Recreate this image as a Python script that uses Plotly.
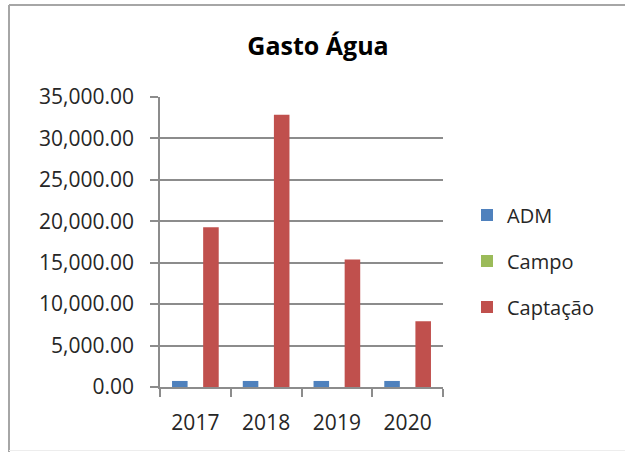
import plotly.graph_objects as go

anos = ["2017", "2018", "2019", "2020"]
adm = [730, 730, 730, 730]
campo = [0, 0, 0, 0]
captacao = [19270, 32850, 15400, 7940]

cores = {"ADM": "#4F81BD", "Campo": "#9BBB59", "Captação": "#C0504D"}
grid = "#8c8c8c"
fonte = "Open Sans"

W, H = 625, 452
# plot area in screen px: x 160..443, y 97..387
ml, mt = 160, 97
mr, mb = W - 443, H - 387
pw, ph = W - ml - mr, H - mt - mb


def px_x(x):
    return (x - ml) / pw


def px_y(y):
    return (H - mb - y) / ph


fig = go.Figure()
for i, (nome, valores) in enumerate([("ADM", adm), ("Campo", campo), ("Captação", captacao)]):
    fig.add_trace(go.Bar(
        x=anos, y=valores, name=nome, legendgroup=str(i),
        marker=dict(color=cores[nome], line=dict(width=0)),
    ))

fig.update_layout(
    width=W, height=H,
    margin=dict(l=ml, r=mr, t=mt, b=mb, autoexpand=False),
    paper_bgcolor="white", plot_bgcolor="white",
    font=dict(family=fonte, size=21, color="#262626"),
    title=dict(text="<b>Gasto Água</b>", x=px_x(318), xref="paper", xanchor="center",
               y=1 - 46 / H, yanchor="middle", font=dict(size=25, color="black")),
    barmode="group", bargap=0.34, bargroupgap=0,
    showlegend=True,
    legend=dict(x=px_x(467), xanchor="left", y=px_y(261), yanchor="middle",
                traceorder="grouped", tracegroupgap=17,
                font=dict(size=20, color="#262626"), bgcolor="rgba(0,0,0,0)"),
    xaxis=dict(showline=True, linecolor=grid, linewidth=1.5, ticks="outside",
               tickson="boundaries", ticklen=8, tickcolor=grid, tickwidth=1.5,
               showgrid=False, ticklabelstandoff=16),
    yaxis=dict(range=[0, 35000], dtick=5000, tickformat=",.2f",
               showline=True, linecolor=grid, linewidth=1.5,
               ticks="outside", ticklen=8, tickcolor=grid, tickwidth=1.5,
               showgrid=True, gridcolor=grid, gridwidth=1.5, zeroline=False,
               ticklabelstandoff=12),
    shapes=[
        # frame of the original chart object (top and left edges)
        dict(type="line", xref="paper", yref="paper", x0=px_x(9), x1=px_x(625),
             y0=px_y(5), y1=px_y(5), line=dict(color="#a6a6a6", width=2)),
        dict(type="line", xref="paper", yref="paper", x0=px_x(9), x1=px_x(9),
             y0=px_y(5), y1=px_y(452), line=dict(color="#a6a6a6", width=2)),
        dict(type="line", xref="paper", yref="paper", x0=px_x(9), x1=px_x(625),
             y0=px_y(450.5), y1=px_y(450.5), line=dict(color="#ededed", width=1)),
    ],
)

# drop the default 8px body margin so the figure sits at the page origin
fig.write_html("out.html", config={"displayModeBar": False},
               post_script="document.body.style.margin='0';")
